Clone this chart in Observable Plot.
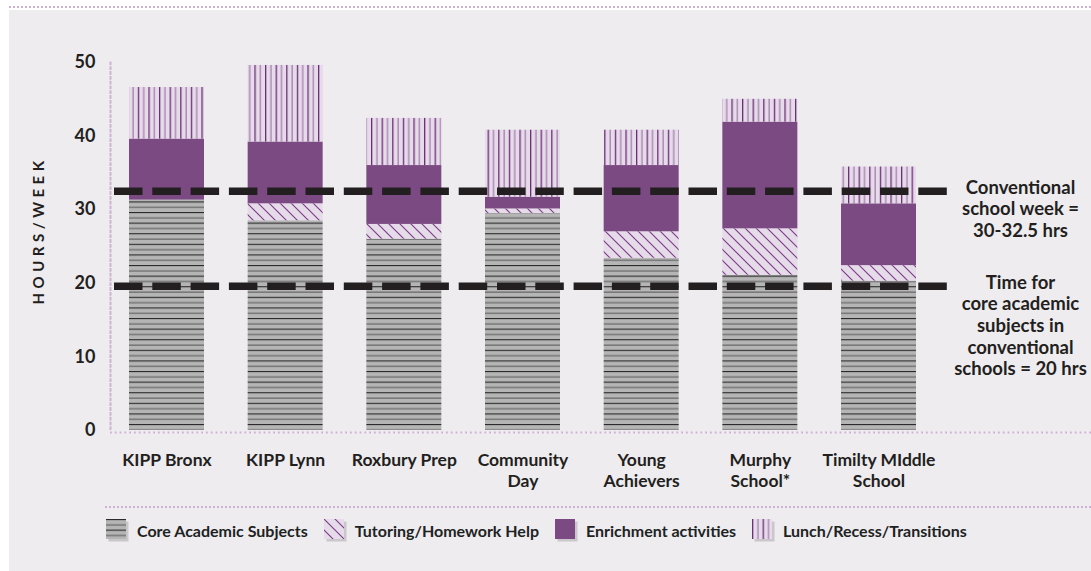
<!DOCTYPE html>
<html>
<head>
<meta charset="utf-8">
<script src="https://cdn.jsdelivr.net/npm/d3@7"></script>
<script src="https://cdn.jsdelivr.net/npm/@observablehq/plot@0.6"></script>
<style>
  body { margin:0; background:#ffffff; width:1091px; height:571px; overflow:hidden; position:relative;
         font-family:Lato,"Open Sans",sans-serif; color:#231f20; }
  #panel { position:absolute; left:9px; top:10px; width:1082px; height:561px; background:#eeecef; }
  #topline { position:absolute; left:9px; top:6px; width:1082px; border-top:2px dotted #cdb2d4; }
  #chart { position:absolute; left:0; top:0; }
  #sep { position:absolute; left:105px; top:506px; width:986px; border-top:2px dotted #cdb2d4; }
  #legend { position:absolute; left:106px; top:519px; display:flex; align-items:center; gap:16px;
            font-size:16px; font-weight:700; color:#1d2322; white-space:nowrap; }
  #legend .item { display:flex; align-items:center; gap:8px; }
  #legend svg { display:block; }
</style>
</head>
<body>
<div id="panel"></div>
<div id="topline"></div>
<svg width="0" height="0" style="position:absolute">
  <defs>
    <pattern id="pCore" patternUnits="userSpaceOnUse" width="8" height="10.6">
      <rect width="8" height="10.6" fill="#b5b5b5"/>
      <rect y="0" width="8" height="1.1" fill="#2a2a2a"/>
      <rect y="5.3" width="8" height="1.3" fill="#6c6c6c"/>
    </pattern>
    <pattern id="pTut" patternUnits="userSpaceOnUse" width="11" height="11">
      <rect width="11" height="11" fill="#e6dce9"/>
      <path d="M0,0L11,11M10,-1L12,1M-1,10L1,12" stroke="#7a3a86" stroke-width="1.1"/>
    </pattern>
    <pattern id="pLunch" patternUnits="userSpaceOnUse" width="10.6" height="10">
      <rect width="10.6" height="10" fill="#e6dce9"/>
      <rect x="0" width="1.3" height="10" fill="#6c2b77"/>
      <rect x="5.3" width="1.3" height="10" fill="#a67eb0"/>
    </pattern>
  </defs>
</svg>
<div id="chart"></div>
<div id="sep"></div>
<div id="legend"></div>
<script>
// ---- data ----
const schools = ["KIPP Bronx","KIPP Lynn","Roxbury Prep","Community Day","Young Achievers","Murphy School*","Timilty MIddle School"];
const schoolLabels = ["KIPP Bronx","KIPP Lynn","Roxbury Prep","Community\nDay","Young\nAchievers","Murphy\nSchool*","Timilty MIddle\nSchool"];
const seriesNames = ["Core Academic Subjects","Tutoring/Homework Help","Enrichment activities","Lunch/Recess/Transitions"];
const core       = [31.3, 28.5, 26.0, 29.5, 23.4, 21.1, 20.3];
const tutoring   = [0.0,  2.3,  2.0,  0.6,  3.6,  6.3,  2.1];
const enrichment = [8.3,  8.4,  8.0,  1.6,  9.0, 14.5,  8.4];
const lunch      = [7.0, 10.4,  6.4,  9.1,  4.8,  3.1,  5.0];
const yTicks = [0, 10, 20, 30, 40, 50];
const refLines = [32.5, 19.6];
const refLabels = ["Conventional\nschool week =\n30-32.5 hrs", "Time for\ncore academic\nsubjects in\nconventional\nschools = 20 hrs"];
const yTitle = "HOURS/WEEK";
const seriesFills = ["url(#pCore)","url(#pTut)","#7c4a83","url(#pLunch)"];

const seriesValues = [core, tutoring, enrichment, lunch];
const data = schools.flatMap((s, i) => seriesNames.map((n, j) => ({school: s, series: n, hours: seriesValues[j][i]})));
const labelOf = new Map(schools.map((s, i) => [s, schoolLabels[i]]));
const annots = refLines.map((v, i) => ({y: v, text: refLabels[i]}));

const ink = "#231f20";
const chart = Plot.plot({
  width: 1091, height: 500,
  marginTop: 62, marginBottom: 70, marginLeft: 110, marginRight: 156,
  style: {background: "transparent", fontFamily: 'Lato,"Open Sans",sans-serif', fontSize: "18px", fontWeight: 700, color: ink},
  x: {domain: schools, paddingInner: 0.368, paddingOuter: 0.16, round: false, label: null},
  y: {domain: [0, 50], label: null},
  color: {type: "ordinal", domain: seriesNames, range: seriesFills, legend: false},
  marks: [
    Plot.frame({anchor: "left", stroke: "#cdb2d4", strokeWidth: 2, strokeDasharray: "1.8,3"}),
    Plot.ruleY([0], {stroke: "#cdb2d4", strokeWidth: 2, strokeDasharray: "1.8,3", dy: 2, insetRight: -156}),
    Plot.barY(data, {x: "school", y: "hours", fill: "series", order: seriesNames}),
    Plot.ruleY(refLines, {stroke: ink, strokeWidth: 7.5, strokeDasharray: "28.5,9.8", insetLeft: 4, insetRight: -15}),
    Plot.axisY({ticks: yTicks, tickSize: 0, tickPadding: 15, fontSize: 18, label: null}),
    Plot.axisX({tickSize: 0, tickPadding: 21, fontSize: 17.5, lineHeight: 1.2, tickFormat: d => labelOf.get(d), label: null}),
    Plot.text(annots, {y: "y", text: "text", frameAnchor: "right", dx: 85, dy: -13, lineAnchor: "top", textAnchor: "middle", fontSize: 18.5, lineHeight: 1.17, fill: ink}),
    Plot.text([yTitle], {frameAnchor: "left", textAnchor: "middle", dx: -71, dy: -16, rotate: -90, fontSize: 15, fill: ink})
  ]
});
document.getElementById("chart").appendChild(chart);
chart.querySelectorAll("text").forEach(t => { if (t.textContent === yTitle) t.setAttribute("letter-spacing", "4.5px"); });

// legend
const legend = document.getElementById("legend");
seriesNames.forEach((n, j) => {
  const item = document.createElement("div");
  item.className = "item";
  item.innerHTML = `<svg width="23" height="23"><rect x="2.5" y="2.5" width="20" height="20" fill="#c9c7ca"/><rect x="0" y="0" width="20" height="20" fill="${seriesFills[j]}"/></svg><span>${n}</span>`;
  legend.appendChild(item);
});
</script>
</body>
</html>
